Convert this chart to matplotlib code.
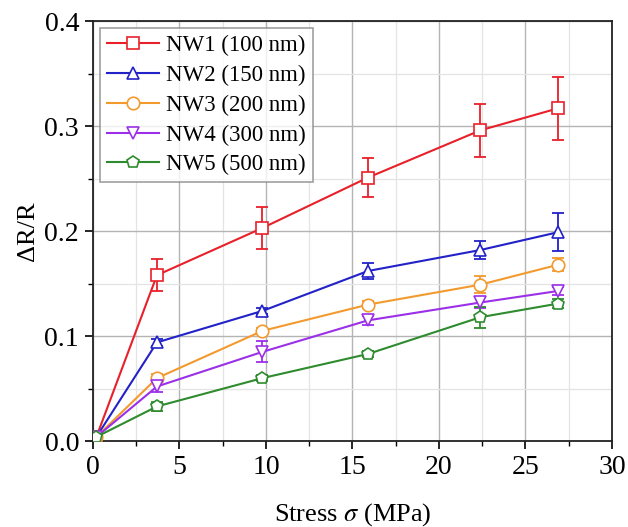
import matplotlib
matplotlib.use("Agg")
import matplotlib.pyplot as plt
from matplotlib.ticker import MultipleLocator

plt.rcParams['font.family'] = ['Liberation Serif', 'DejaVu Serif']
plt.rcParams['mathtext.fontset'] = 'stix'

stress = [0.2, 3.7, 9.8, 15.9, 22.4, 26.9]
labels = ["NW1 (100 nm)", "NW2 (150 nm)", "NW3 (200 nm)", "NW4 (300 nm)", "NW5 (500 nm)"]
nw1 = [0.004, 0.158, 0.203, 0.251, 0.296, 0.317]
nw1_err = [0.0, 0.015, 0.020, 0.019, 0.025, 0.030]
nw2 = [0.004, 0.094, 0.124, 0.162, 0.182, 0.199]
nw2_err = [0.0, 0.003, 0.003, 0.008, 0.009, 0.018]
nw3 = [0.004, 0.060, 0.105, 0.130, 0.149, 0.168]
nw3_err = [0.0, 0.004, 0.003, 0.003, 0.008, 0.006]
nw4 = [0.004, 0.052, 0.085, 0.115, 0.132, 0.143]
nw4_err = [0.0, 0.005, 0.010, 0.004, 0.005, 0.004]
nw5 = [0.004, 0.033, 0.060, 0.083, 0.118, 0.131]
nw5_err = [0.0, 0.004, 0.003, 0.003, 0.010, 0.004]

series = [nw1, nw2, nw3, nw4, nw5]
errors = [nw1_err, nw2_err, nw3_err, nw4_err, nw5_err]
colors = ['#E8202A', '#2222C8', '#F29A2E', '#9B30E8', '#2E8B2E']
markers = ['s', '^', 'o', 'v', 'p']

fig = plt.figure(figsize=(6.28, 5.27), dpi=100)
ax = fig.add_axes([0.148, 0.163, 0.8265, 0.797])

handles = []
for y, e, c, m, lab in zip(series, errors, colors, markers, labels):
    ax.errorbar(stress, y, yerr=e, fmt='none', ecolor=c,
                capsize=4, elinewidth=1.3, capthick=1.3, zorder=3)
    ln, = ax.plot(stress, y, color=c, marker=m, markersize=9,
                  markerfacecolor='white', markeredgecolor=c, markeredgewidth=1.2,
                  linewidth=1.5, label=lab, zorder=4)
    handles.append(ln)

ax.set_xlim(0, 30)
ax.set_ylim(0, 0.4)
ax.xaxis.set_major_locator(MultipleLocator(5))
ax.xaxis.set_minor_locator(MultipleLocator(2.5))
ax.yaxis.set_minor_locator(MultipleLocator(0.05))
ax.set_yticks([0.0, 0.1, 0.2, 0.3, 0.4])
ax.set_yticklabels(['0.0', '0.1', '0.2', '0.3', '0.4'])

ax.grid(True, which='major', color='#b4b4b4', linewidth=1.0, zorder=0)
ax.grid(True, which='minor', color='#e4e4e4', linewidth=0.9, zorder=0)
ax.set_axisbelow(True)

ax.tick_params(which='major', direction='out', length=6, width=1.2, labelsize=20,
               top=False, right=False, pad=4)
ax.tick_params(which='minor', direction='out', length=3.5, width=1.0,
               top=False, right=False)
for s in ax.spines.values():
    s.set_linewidth(1.3)
    s.set_color('#222222')

ax.set_xlabel(r'Stress $\sigma$ (MPa)', fontsize=19, labelpad=15)
ax.set_ylabel(r'ΔR/R', fontsize=19, labelpad=4)

leg = ax.legend(handles=handles, loc='upper left', fontsize=16.5, frameon=True, fancybox=False,
                edgecolor='#888888', borderpad=0.3, handlelength=2.3,
                handletextpad=0.3, labelspacing=0.38, borderaxespad=0.3)
leg.get_frame().set_linewidth(1.2)

fig.savefig('out.png', dpi=100)
